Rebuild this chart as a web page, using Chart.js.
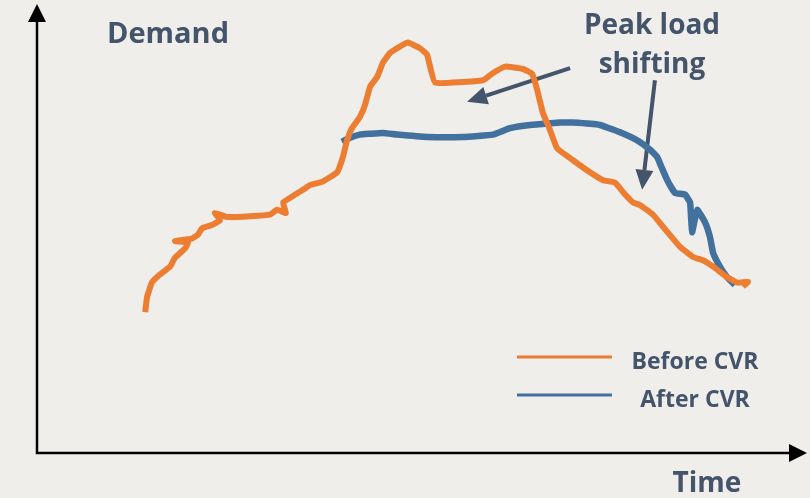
<!DOCTYPE html>
<html>
<head>
<meta charset="utf-8">
<script src="https://cdn.jsdelivr.net/npm/chart.js@4/dist/chart.umd.min.js"></script>
<style>
  html, body { margin: 0; padding: 0; background: #efeeeb; }
  #wrap { width: 810px; height: 498px; }
</style>
</head>
<body>
<div id="wrap"><canvas id="c" width="810" height="498"></canvas></div>
<script>
// time in hours, demand in arbitrary units
const beforeT = [3.38, 3.44, 3.59, 3.84, 4.16, 4.31, 4.63, 4.72, 4.31, 4.84, 5.03, 5.16, 5.47, 5.72, 5.56, 5.94,
  6.66, 7.28, 7.5, 7.78, 7.69, 8.31, 8.53, 8.91, 9.38, 9.56, 9.69, 9.84, 10.09, 10.25, 10.41, 10.63, 10.81,
  11.03, 11.34, 11.59, 11.97, 12.19, 12.44, 13.94, 14.25, 14.63, 15.19, 15.47, 15.63, 15.81, 16.03, 16.25,
  16.75, 17.28, 17.69, 18.06, 18.38, 18.63, 18.84, 19.25, 19.56, 20.09, 20.5, 20.81, 21.13, 21.56, 21.88,
  22.22, 22.06];
const beforeD = [17.6, 19.5, 21.3, 22.3, 23.3, 24.4, 25.6, 26.3, 26.5, 26.8, 27.3, 28.1, 28.5, 29.1, 30, 29.5,
  29.6, 29.8, 30.4, 30, 31.3, 32.9, 33.5, 33.9, 35.1, 37, 39.1, 40.6, 42, 43.5, 45.8, 47, 48.8,
  50, 50.8, 51.3, 50.6, 49.8, 46.3, 46.6, 47.5, 48.3, 48, 47.4, 45.4, 42.5, 40.4, 38.1,
  36.6, 35.1, 34.1, 33.8, 32.3, 31.3, 31, 29.8, 28.3, 25.8, 24.5, 24.1, 23.3, 22, 21.3,
  21.4, 20.8];

const afterT = [9.53, 9.78, 10.09, 10.41, 10.81, 11.25, 12.19, 13.31, 14.25, 14.78, 15.41, 16.34, 16.75, 17.59,
  18.22, 18.75, 19.16, 19.38, 19.53, 19.72, 19.94, 20.25, 20.41, 20.47, 20.63, 20.88, 21.03, 21.13, 21.34,
  21.56, 21.81];
const afterD = [38.9, 39.4, 39.8, 39.9, 40, 39.8, 39.5, 39.5, 39.8, 40.6, 41, 41.3, 41.3, 41,
  40.1, 39.1, 37.9, 37, 35.6, 33.9, 32.5, 32.3, 31.3, 27.6, 30.4, 28.8, 27, 25, 23.3,
  22, 21];

const seriesNames = ['Before CVR', 'After CVR'];
const seriesColors = ['#ed7d31', '#41719c'];

// annotation arrows: [fromT, fromD, toT, toD]
const arrows = [
  [16.66, 48.1, 13.44, 43.9],
  [19.31, 46.6, 18.91, 32.9]
];

const textColor = '#44546a';

function pts(ts, ds) {
  return ts.map((t, i) => ({ x: t, y: ds[i] }));
}

const decor = {
  id: 'decor',
  beforeDraw(chart) {
    const c = chart.ctx;
    c.save();
    c.fillStyle = '#efeeeb';
    c.fillRect(0, 0, chart.width, chart.height);
    c.restore();
  },
  beforeDatasetsDraw(chart) {
    const c = chart.ctx;
    const xs = chart.scales.x, ys = chart.scales.y;
    c.save();
    c.strokeStyle = textColor;
    c.fillStyle = textColor;
    c.lineWidth = 4;
    arrows.forEach(a => {
      const x1 = xs.getPixelForValue(a[0]), y1 = ys.getPixelForValue(a[1]);
      const x2 = xs.getPixelForValue(a[2]), y2 = ys.getPixelForValue(a[3]);
      const ang = Math.atan2(y2 - y1, x2 - x1);
      const hl = 20, hw = 9;
      const bx = x2 - hl * Math.cos(ang), by = y2 - hl * Math.sin(ang);
      c.beginPath();
      c.moveTo(x1, y1);
      c.lineTo(bx, by);
      c.stroke();
      c.beginPath();
      c.moveTo(x2, y2);
      c.lineTo(bx + hw * Math.sin(ang), by - hw * Math.cos(ang));
      c.lineTo(bx - hw * Math.sin(ang), by + hw * Math.cos(ang));
      c.closePath();
      c.fill();
    });
    c.restore();
  },
  afterDraw(chart) {
    const c = chart.ctx;
    const a = chart.chartArea;
    c.save();
    // axes with arrow heads
    c.strokeStyle = '#000';
    c.fillStyle = '#000';
    c.lineWidth = 2.5;
    c.beginPath();
    c.moveTo(a.left, 20);
    c.lineTo(a.left, a.bottom);
    c.lineTo(790, a.bottom);
    c.stroke();
    c.beginPath();
    c.moveTo(a.left, 4);
    c.lineTo(a.left - 9, 22);
    c.lineTo(a.left + 9, 22);
    c.closePath();
    c.fill();
    c.beginPath();
    c.moveTo(807, a.bottom);
    c.lineTo(789, a.bottom - 9);
    c.lineTo(789, a.bottom + 9);
    c.closePath();
    c.fill();

    // titles
    c.fillStyle = textColor;
    c.font = 'bold 29px "Open Sans"';
    c.textAlign = 'left';
    c.textBaseline = 'alphabetic';
    c.fillText('Demand', 107, 43);
    c.textAlign = 'center';
    c.font = 'bold 28px "Open Sans"';
    c.fillText('Time', 707, 492);
    c.fillText('Peak load', 652, 34);
    c.fillText('shifting', 652, 73);

    // legend
    c.font = 'bold 23px "Open Sans"';
    const rows = [357, 395];
    chart.data.datasets.forEach((ds, i) => {
      c.strokeStyle = ds.borderColor;
      c.lineWidth = 3;
      c.beginPath();
      c.moveTo(517, rows[i]);
      c.lineTo(612, rows[i]);
      c.stroke();
      c.fillStyle = textColor;
      c.fillText(ds.label, 695, rows[i] + 12);
    });
    c.restore();
  }
};

new Chart(document.getElementById('c'), {
  type: 'line',
  data: {
    datasets: [{
      label: seriesNames[0],
      data: pts(beforeT, beforeD),
      borderColor: seriesColors[0],
      borderWidth: 6,
      borderJoinStyle: 'round',
      borderCapStyle: 'butt',
      pointRadius: 0,
      tension: 0.1,
      order: 1
    }, {
      label: seriesNames[1],
      data: pts(afterT, afterD),
      borderColor: seriesColors[1],
      borderWidth: 6.5,
      borderJoinStyle: 'round',
      pointRadius: 0,
      tension: 0.1,
      order: 2
    }]
  },
  options: {
    responsive: false,
    animation: false,
    layout: { padding: { left: 37, right: 5, top: 5, bottom: 45 } },
    plugins: { legend: { display: false }, tooltip: { enabled: false } },
    scales: {
      x: { type: 'linear', min: 0, max: 24, display: false },
      y: { min: 0, max: 56, display: false }
    }
  },
  plugins: [decor]
});
</script>
</body>
</html>
